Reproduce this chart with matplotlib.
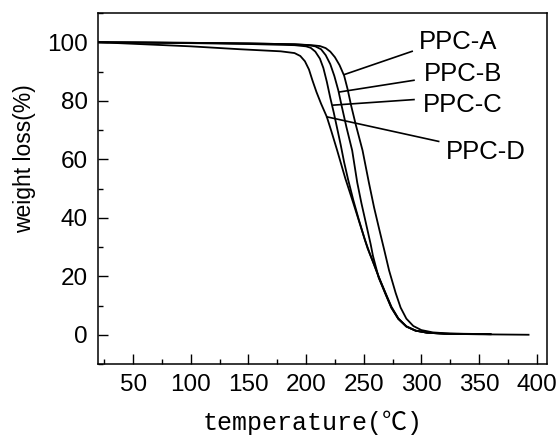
import matplotlib
matplotlib.use("Agg")
import matplotlib.pyplot as plt
from matplotlib.ticker import MultipleLocator

plt.rcParams['font.family'] = ['Liberation Sans', 'DejaVu Sans']

# ---- data ----
T_A = [20, 60, 100, 150, 190, 205, 212, 217, 221, 225, 229, 233, 236, 239, 243, 249, 254.5,
       259, 263.5, 267.8, 272, 277.7, 282, 287, 293, 300, 310, 325, 360]
W_A = [100, 99.9, 99.8, 99.6, 99.3, 99.0, 98.7, 98.0, 96.8, 94.9, 92.2, 88.6, 84, 78.5, 72, 63, 52,
       43.5, 36, 29, 22, 14.3, 9.3, 5.5, 3.0, 1.6, 0.8, 0.4, 0.2]

T_B = [20, 60, 100, 150, 190, 202, 208, 213, 217, 221, 224.5, 228, 231, 235, 240, 244.4, 248,
       252, 256, 258, 263, 269, 274, 280, 287, 295, 305, 320, 360]
W_B = [100, 99.9, 99.8, 99.6, 99.3, 99.0, 98.6, 97.6, 95.6, 92.5, 88.5, 83.5, 78, 71, 63, 52, 45,
       38, 31, 27, 19.5, 13.8, 9.2, 5.4, 2.8, 1.4, 0.7, 0.35, 0.2]

T_C = [20, 60, 100, 150, 190, 200, 204, 208, 212, 215, 218, 221, 224, 227, 230, 233, 236.5, 241,
       246, 251, 255.5, 259, 264, 269, 274, 280, 287, 295, 305, 320, 360]
W_C = [100, 99.9, 99.7, 99.4, 99.0, 98.6, 98.1, 96.8, 94.4, 91.2, 86.5, 81, 76, 70.5, 65, 59, 53, 46,
       39, 32.5, 27.5, 24, 18.8, 14, 9.3, 5.5, 2.8, 1.4, 0.7, 0.35, 0.2]

T_D = [20, 60, 100, 143, 178, 190, 195, 199, 202.5, 205.5, 209, 213, 218, 222, 227, 234, 241,
       247, 253.4, 257.5, 263, 269, 274, 280, 287, 295, 305, 320, 350, 393]
W_D = [100, 99.3, 98.6, 97.6, 96.9, 96.3, 95.3, 93.5, 90.7, 87, 83, 79, 74.5, 69.5, 63, 53.5, 45,
       37.5, 29.5, 25.5, 19.8, 14.2, 9.6, 5.6, 2.9, 1.4, 0.7, 0.35, 0.15, 0.0]

labels = ['PPC-A', 'PPC-B', 'PPC-C', 'PPC-D']
label_xy = [(332, 100.2), (336, 89.3), (336, 78.7), (356, 62.6)]
pointer_from = [(292, 96.9), (293.6, 87.0), (293.6, 80.4), (315, 66.1)]
pointer_to = [(233.5, 89.0), (229.0, 83.0), (223.5, 78.5), (218, 74.5)]

x_ticks = [50, 100, 150, 200, 250, 300, 350, 400]
y_ticks = [0, 20, 40, 60, 80, 100]

# ---- figure ----
fig = plt.figure(figsize=(5.58, 4.36), dpi=100)
ax = fig.add_axes([98 / 558, 1 - 364 / 436, 449 / 558, 351 / 436])

for T, W in [(T_A, W_A), (T_B, W_B), (T_C, W_C), (T_D, W_D)]:
    ax.plot(T, W, color='black', lw=1.3, solid_joinstyle='round')

for lab, (lx, ly), (fx, fy), (tx, ty) in zip(labels, label_xy, pointer_from, pointer_to):
    ax.plot([fx, tx], [fy, ty], color='black', lw=1.2)
    ax.text(lx, ly, lab, ha='center', va='center', fontsize=18.5)

ax.set_xlim(19.5, 409)
ax.set_ylim(-10, 110)
ax.set_xticks(x_ticks)
ax.set_yticks(y_ticks)
ax.xaxis.set_minor_locator(MultipleLocator(25))
ax.yaxis.set_minor_locator(MultipleLocator(10))
ax.tick_params(which='both', direction='in', top=False, right=False, labelsize=17.5, width=1.0)
ax.tick_params(which='major', length=7)
ax.tick_params(which='minor', length=3.5)
ax.tick_params(axis='x', pad=7.5)
ax.tick_params(axis='y', pad=7.5)
for s in ax.spines.values():
    s.set_linewidth(1.1)

ax.set_ylabel('weight loss(%)', fontsize=16.5, va='center', ha='center')
ax.yaxis.set_label_coords(-0.163, 0.584)
ax.set_xlabel('temperature(℃)', fontsize=18, va='baseline',
              family=['Liberation Mono', 'Noto Sans CJK SC', 'DejaVu Sans'])
ax.xaxis.set_label_coords(0.478, -0.188)

fig.savefig('out.png', dpi=100)
